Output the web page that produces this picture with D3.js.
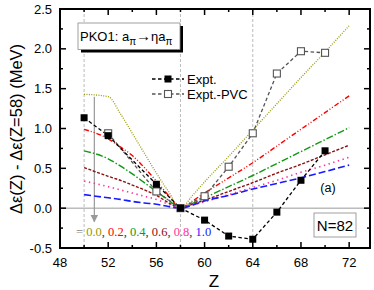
<!DOCTYPE html>
<html><head><meta charset="utf-8">
<script src="https://cdn.jsdelivr.net/npm/d3@7"></script>
<style>body{margin:0;background:#fff}svg{display:block}text{font-family:"Liberation Sans",Arial,sans-serif}</style>
</head><body><svg id="c" width="374" height="290"></svg>
<script>
// ---- data ----
const zExpt = [50, 52, 56, 58, 60, 62, 64, 66, 68, 70];
const expt = [1.135, 0.91, 0.30, 0.0, -0.15, -0.35, -0.39, -0.05, 0.35, 0.72];
const zPVC = [52, 56, 58, 60, 62, 64, 66, 68, 70];
const exptPVC = [0.94, 0.21, 0.0, 0.15, 0.52, 0.94, 1.69, 1.97, 1.95];
const zTheory = [50, 52, 53, 54, 55, 56, 57, 58, 59, 60, 62, 64, 66, 68, 70, 72];
const eta00 = [1.43, 1.40, 1.19, 0.94, 0.69, 0.44, 0.21, 0.0, 0.16, 0.33, 0.65, 0.98, 1.31, 1.64, 1.96, 2.29];
const eta02 = [0.99, 0.87, 0.77, 0.66, 0.51, 0.34, 0.16, 0.0, 0.09, 0.19, 0.38, 0.57, 0.78, 0.99, 1.20, 1.41];
const eta04 = [0.72, 0.62, 0.53, 0.43, 0.32, 0.21, 0.10, 0.0, 0.06, 0.13, 0.27, 0.41, 0.56, 0.71, 0.86, 1.01];
const eta06 = [0.51, 0.40, 0.35, 0.29, 0.23, 0.16, 0.07, 0.0, 0.05, 0.10, 0.21, 0.32, 0.44, 0.55, 0.67, 0.79];
const eta08 = [0.34, 0.27, 0.23, 0.19, 0.15, 0.11, 0.05, 0.0, 0.04, 0.08, 0.17, 0.26, 0.35, 0.45, 0.54, 0.64];
const eta10 = [0.17, 0.13, 0.11, 0.085, 0.065, 0.05, 0.02, 0.0, 0.04, 0.09, 0.16, 0.24, 0.31, 0.38, 0.46, 0.54];
const etaLabels = ["0.0", "0.2", "0.4", "0.6", "0.8", "1.0"];
const xTicks = [48, 52, 56, 60, 64, 68, 72];
const yTicks = [-0.5, 0.0, 0.5, 1.0, 1.5, 2.0, 2.5];
const refLines = [50, 58, 64];

// ---- layout ----
const svg = d3.select("#c");
const L = 60, T = 9, R = 370, B = 248;
const x = d3.scaleLinear().domain([48, 73.73]).range([L, R]);
const y = d3.scaleLinear().domain([-0.5, 2.5]).range([B, T]);

// reference lines
svg.append("line").attr("x1", L).attr("x2", R).attr("y1", y(0)).attr("y2", y(0))
  .attr("stroke", "#999").attr("stroke-width", 1);
refLines.forEach(z => svg.append("line").attr("x1", x(z)).attr("x2", x(z)).attr("y1", T).attr("y2", B)
  .attr("stroke", "#aaa").attr("stroke-width", 0.8).attr("stroke-dasharray", "3,2"));

// arrow
const defs = svg.append("defs");
defs.append("marker").attr("id", "ah").attr("viewBox", "0 0 10 10").attr("refX", 9).attr("refY", 5)
  .attr("markerWidth", 8).attr("markerHeight", 9).attr("markerUnits", "userSpaceOnUse").attr("orient", "auto")
  .append("path").attr("d", "M0,0 L10,5 L0,10 Z").attr("fill", "#999");
svg.append("line").attr("x1", x(50.85)).attr("x2", x(50.85)).attr("y1", y(1.40)).attr("y2", y(-0.17))
  .attr("stroke", "#999").attr("stroke-width", 1.2).attr("marker-end", "url(#ah)");

// theory curves
const series = [
  {v: eta00, c: "#999900", d: "1,1.4", w: 1.3},
  {v: eta02, c: "#ff0000", d: "5,2,1,2,1,2", w: 1.4},
  {v: eta04, c: "#119911", d: "7,2,1.5,2", w: 1.4},
  {v: eta06, c: "#8b1010", d: "3,1.6", w: 1.4},
  {v: eta08, c: "#ff3399", d: "1.4,3.5", w: 1.6},
  {v: eta10, c: "#1a1aff", d: "7,3", w: 1.6}
];
const line = d3.line().x(d => x(d[0])).y(d => y(d[1])).curve(d3.curveMonotoneX);
series.forEach(s => {
  svg.append("path").datum(zTheory.map((z, i) => [z, s.v[i]])).attr("d", line)
    .attr("fill", "none").attr("stroke", s.c).attr("stroke-width", s.w).attr("stroke-dasharray", s.d);
});

// expt lines
const lin = d3.line().x(d => x(d[0])).y(d => y(d[1]));
const pvcData = zPVC.map((z, i) => [z, exptPVC[i]]);
const exData = zExpt.map((z, i) => [z, expt[i]]);
svg.append("path").datum(pvcData).attr("d", lin).attr("fill", "none").attr("stroke", "#555")
  .attr("stroke-width", 1.3).attr("stroke-dasharray", "3.5,2.5");
svg.append("path").datum(exData).attr("d", lin).attr("fill", "none").attr("stroke", "#000")
  .attr("stroke-width", 1.3).attr("stroke-dasharray", "3.5,2.5");
svg.selectAll(".pvc").data(pvcData).enter().append("rect")
  .attr("x", d => x(d[0]) - 3.5).attr("y", d => y(d[1]) - 3.5).attr("width", 7).attr("height", 7)
  .attr("fill", "#fff").attr("stroke", "#555").attr("stroke-width", 1.1);
svg.selectAll(".ex").data(exData).enter().append("rect")
  .attr("x", d => x(d[0]) - 3.5).attr("y", d => y(d[1]) - 3.5).attr("width", 7).attr("height", 7)
  .attr("fill", "#000");

// frame and ticks
svg.append("rect").attr("x", L).attr("y", T).attr("width", R - L).attr("height", B - T)
  .attr("fill", "none").attr("stroke", "#000").attr("stroke-width", 2);
const xMinor = d3.range(50, 74, 4);
const yMinor = d3.range(-0.25, 2.5, 0.5);
const tk = (x1, y1, x2, y2) => svg.append("line").attr("x1", x1).attr("y1", y1).attr("x2", x2).attr("y2", y2)
  .attr("stroke", "#000").attr("stroke-width", 1.5);
xTicks.forEach(v => { tk(x(v), B, x(v), B - 6); tk(x(v), T, x(v), T + 6); });
xMinor.forEach(v => { tk(x(v), B, x(v), B - 3); tk(x(v), T, x(v), T + 3); });
yTicks.forEach(v => { tk(L, y(v), L + 6, y(v)); tk(R, y(v), R - 6, y(v)); });
yMinor.forEach(v => { tk(L, y(v), L + 3, y(v)); tk(R, y(v), R - 3, y(v)); });

// tick labels
svg.selectAll(".xl").data(xTicks).enter().append("text").attr("x", d => x(d)).attr("y", 267)
  .attr("text-anchor", "middle").attr("font-size", 13).text(d => d);
svg.selectAll(".yl").data(yTicks).enter().append("text").attr("x", 52).attr("y", d => y(d) + 4.5)
  .attr("text-anchor", "end").attr("font-size", 13).text(d => d.toFixed(1));

// axis titles
svg.append("text").attr("x", 214).attr("y", 287).attr("text-anchor", "middle").attr("font-size", 17).text("Z");
svg.append("text").attr("transform", "translate(22,129) rotate(-90)").attr("text-anchor", "middle")
  .attr("font-size", 16.5).text("Δε(Z) - Δε(Z=58) (MeV)");

// title box
svg.append("rect").attr("x", 81).attr("y", 26).attr("width", 102).attr("height", 26.5).attr("fill", "#000");
svg.append("rect").attr("x", 78).attr("y", 23).attr("width", 102).attr("height", 26.5)
  .attr("fill", "#fff").attr("stroke", "#888").attr("stroke-width", 0.8);
const tt = svg.append("text").attr("x", 80).attr("y", 41).attr("font-size", 13);
tt.append("tspan").text("PKO1: a");
tt.append("tspan").attr("dy", 4).attr("font-size", 10).text("π");
tt.append("tspan").attr("dy", -4).attr("font-size", 15).text("→");
tt.append("tspan").text("ηa");
tt.append("tspan").attr("dy", 4).attr("font-size", 10).text("π");

// legend
[[79, "#000", true, "Expt."], [94, "#555", false, "Expt.-PVC"]].forEach(([ly, c, filled, lab]) => {
  svg.append("line").attr("x1", 152).attr("x2", 184).attr("y1", ly).attr("y2", ly)
    .attr("stroke", c).attr("stroke-width", 1.3).attr("stroke-dasharray", "3.5,2.5");
  svg.append("rect").attr("x", 168 - 3.5).attr("y", ly - 3.5).attr("width", 7).attr("height", 7)
    .attr("fill", filled ? "#000" : "#fff").attr("stroke", c).attr("stroke-width", filled ? 0 : 1.1);
  svg.append("text").attr("x", 187).attr("y", ly + 4.5).attr("font-size", 13).text(lab);
});

// (a) and N=82
svg.append("text").attr("x", 328).attr("y", 192).attr("text-anchor", "middle").attr("font-size", 12.5).text("(a)");
svg.append("rect").attr("x", 314).attr("y", 213).attr("width", 42).attr("height", 24)
  .attr("fill", "#fff").attr("stroke", "#888").attr("stroke-width", 0.8);
svg.append("text").attr("x", 335).attr("y", 230.5).attr("text-anchor", "middle").attr("font-size", 15).text("N=82");

// eta values
const et = svg.append("text").attr("x", 76).attr("y", 235.5).attr("font-size", 12.5)
  .attr("style", "font-family:'Liberation Serif','Times New Roman',serif");
et.append("tspan").attr("fill", "#888").text("= ");
etaLabels.forEach((l, i) => {
  et.append("tspan").attr("fill", series[i].c).text(l);
  if (i < etaLabels.length - 1) et.append("tspan").attr("fill", "#333").text(", ");
});
</script></body></html>
